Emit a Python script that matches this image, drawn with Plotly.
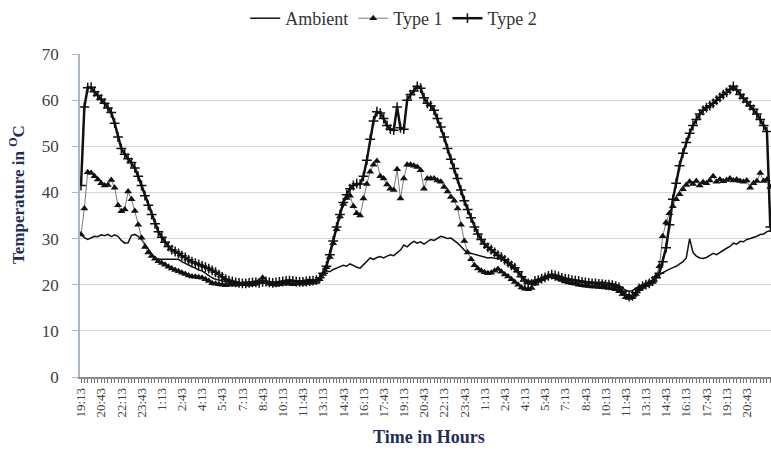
import plotly.graph_objects as go

# Readings every 15 minutes, starting at 19:13 on the first evening
START_TIME = "19:13"
STEP_MINUTES = 15

AMBIENT = [
    30.9, 30.2, 29.8, 30.2, 30.5, 30.4, 30.8, 30.6, 30.9, 30.4,
    30.8, 30.5, 29.6, 29.0, 29.1, 30.7, 30.9, 30.5, 29.8, 28.8,
    27.6, 26.7, 25.8, 25.5, 25.5, 25.5, 25.5, 25.5, 25.5, 25.5,
    25.0, 24.6, 24.2, 23.9, 23.6, 23.2, 23.0, 22.5, 22.0, 21.5,
    21.2, 21.0, 20.8, 20.6, 20.5, 20.6, 20.5, 20.4, 20.5, 20.6,
    20.5, 20.7, 20.8, 21.0, 20.9, 20.7, 20.6, 20.5, 20.5, 20.6,
    20.8, 21.0, 21.0, 20.9, 20.8, 20.8, 20.9, 21.0, 21.2, 21.0,
    20.8, 21.5, 22.3, 23.0, 22.8, 23.3, 23.6, 23.9, 24.2, 24.0,
    24.5, 24.2, 23.8, 23.6, 24.3, 25.0, 25.8, 25.5, 25.9, 26.1,
    25.8, 26.2, 26.5, 26.3, 26.9, 27.5, 28.6, 28.2, 28.9, 29.4,
    29.0, 29.3, 28.8, 29.4, 29.8, 29.6, 30.0, 30.5, 30.3, 30.0,
    30.1, 29.6, 29.0, 28.3, 27.5, 27.0, 26.8, 26.6, 26.4, 26.2,
    26.0, 25.8, 25.9, 25.7, 25.6, 25.6, 25.2, 24.5, 23.8, 23.2,
    22.5, 21.8, 21.2, 20.8, 20.6, 20.8, 21.0, 21.2, 21.4, 21.7,
    21.9, 21.8, 21.6, 21.4, 21.3, 21.1, 21.0, 20.9, 20.8, 20.7,
    20.7, 20.6, 20.6, 20.5, 20.5, 20.6, 20.5, 20.4, 20.3, 20.1,
    19.8, 19.3, 18.8, 18.6, 18.7, 19.2, 19.7, 20.0, 20.3, 20.6,
    21.0, 21.6, 22.2, 22.6, 23.0, 23.4, 23.7, 24.0, 24.5, 25.0,
    25.8, 30.0, 27.0, 26.2, 25.8, 25.7, 25.9, 26.3, 26.8, 26.5,
    27.0, 27.4, 27.9, 28.3, 29.0, 28.8, 29.4, 29.3, 29.8, 30.0,
    30.2, 30.5, 30.9, 31.0, 31.5, 31.7,
]

TYPE_1 = [
    30.9, 36.5, 44.4, 44.2, 43.5, 42.8, 42.0, 41.5, 41.6, 42.7,
    41.0, 37.2, 35.9, 36.3, 40.2, 38.5, 36.0, 33.0, 30.2, 28.2,
    27.0, 26.2, 25.6, 25.1, 24.7, 24.3, 23.9, 23.5, 23.2, 22.9,
    22.6, 22.3, 22.0, 21.8, 21.7, 21.6, 21.5, 21.2, 20.8, 20.3,
    20.2, 20.1, 20.0, 19.9, 20.0, 20.1, 20.0, 20.1, 20.2, 20.1,
    20.0, 20.1, 20.2, 20.6, 21.5, 20.6, 20.2, 20.1, 20.0, 20.1,
    20.2, 20.3, 20.2, 20.1, 20.2, 20.3, 20.2, 20.3, 20.4, 20.5,
    20.6, 21.2, 22.3, 23.8, 26.0, 29.0, 32.0, 34.8, 37.5, 38.8,
    39.3, 37.0, 35.5, 35.0, 38.7, 41.8, 44.5, 46.0, 46.8, 43.5,
    43.0, 41.7, 40.8, 40.5, 45.0, 38.7, 43.0, 46.0, 46.0, 45.8,
    45.5, 44.8, 40.8, 43.0, 43.0, 43.0, 42.6, 42.3, 41.2, 40.2,
    39.0, 38.2, 36.5, 33.0, 29.5, 27.0, 25.5, 24.2, 23.5, 23.0,
    22.7, 22.5, 22.6, 23.0, 23.4, 22.8, 22.2, 21.8, 21.2, 20.6,
    20.0, 19.4, 19.1, 19.0, 19.3, 20.2, 20.8, 21.2, 21.5, 21.8,
    21.9, 21.6, 21.3, 21.0, 20.7, 20.5, 20.3, 20.2, 20.0, 19.9,
    19.8, 19.7, 19.6, 19.6, 19.5, 19.5, 19.4, 19.3, 19.2, 19.0,
    18.6, 18.0, 17.3, 17.1, 17.3, 18.0, 19.0, 19.5, 19.9, 20.2,
    20.6, 21.8, 24.0, 30.5, 33.5, 35.5, 37.0, 38.5, 39.6, 40.7,
    41.6, 42.3, 41.8, 42.5, 41.5, 42.2, 42.0, 42.6, 43.5, 42.3,
    42.8, 42.4, 42.7, 43.0, 42.6, 42.8, 42.5, 42.3, 42.6, 41.0,
    42.0, 42.5, 44.2, 42.5, 42.8, 41.2,
]

TYPE_2 = [
    41.5, 58.5, 62.7, 62.8, 61.8, 61.0, 60.2, 59.3, 58.3, 57.3,
    55.0, 52.0, 49.5, 48.3, 47.3, 46.5, 45.3, 43.5, 41.5, 39.3,
    37.2, 35.2, 33.2, 31.5, 30.3, 29.2, 28.3, 27.6, 27.2, 26.8,
    26.3, 25.9, 25.4, 25.0, 24.7, 24.4, 24.1, 23.8, 23.5, 23.1,
    22.7, 22.2, 21.7, 21.2, 20.9, 20.7, 20.5, 20.4, 20.3, 20.3,
    20.4, 20.5, 20.5, 20.4, 20.6, 20.7, 20.5, 20.4, 20.5, 20.6,
    20.7, 20.8, 20.9, 20.8, 20.7, 20.6, 20.6, 20.7, 20.8, 20.9,
    21.0, 21.5, 22.5, 24.0, 26.5, 29.5, 32.5, 35.2, 37.8, 39.5,
    40.8, 41.5, 41.9, 41.8, 43.5, 47.0, 51.5, 55.5, 57.5, 57.2,
    56.0, 54.5, 53.7, 53.5, 58.5, 54.0, 53.7, 60.0, 61.2, 62.0,
    63.0, 62.6, 60.5, 59.3, 58.8, 57.8, 56.0, 54.2, 52.0, 49.5,
    47.2, 45.2, 43.0, 40.5, 38.2, 36.3, 34.5, 32.5, 31.0, 29.8,
    28.8, 28.1, 27.6, 27.0, 26.4, 26.0, 25.4, 24.8, 24.2, 23.7,
    22.8, 21.7, 20.8, 20.3, 20.2, 20.8, 21.0, 21.3, 21.6, 21.9,
    22.2, 22.0, 21.8, 21.5, 21.3, 21.2, 21.0, 20.9, 20.8, 20.6,
    20.5, 20.4, 20.3, 20.3, 20.2, 20.1, 20.0, 20.0, 19.9, 19.7,
    19.4, 18.6, 17.8, 17.4, 17.6, 18.3, 19.2, 19.7, 20.0, 20.3,
    20.8, 21.5, 22.5, 25.0, 28.0, 33.0, 38.5, 42.0, 45.8, 48.5,
    50.8, 52.8, 54.5, 55.8, 57.0, 57.8, 58.4, 58.8, 59.3, 60.0,
    60.6, 61.2, 61.7, 62.3, 63.0, 62.2, 61.2, 60.4, 59.6, 58.8,
    58.0, 57.0, 55.8, 54.5, 53.2, 32.5,
]

# Clock time of every reading (categories of the x axis)
h0, m0 = (int(p) for p in START_TIME.split(":"))
reading_times = []
for k in range(len(AMBIENT)):
    t = (h0 * 60 + m0 + k * STEP_MINUTES) % (24 * 60)
    reading_times.append(f"{t // 60}:{t % 60:02d}")

x_index = list(range(len(AMBIENT)))
TICK_EVERY = 6  # one label per 1.5 hours
TICK_POS = x_index[::TICK_EVERY]
TICK_LABELS = [reading_times[p] for p in TICK_POS]

SERIF = "Liberation Serif, Times New Roman, serif"
NAVY = "#1f2f5a"

fig = go.Figure()
fig.add_trace(go.Scatter(
    x=x_index, y=AMBIENT, name="Ambient", mode="lines",
    customdata=reading_times, hovertemplate="%{customdata}: %{y} °C",
    line=dict(color="#111111", width=1.5),
))
fig.add_trace(go.Scatter(
    x=x_index, y=TYPE_1, name="Type 1", mode="lines+markers",
    customdata=reading_times, hovertemplate="%{customdata}: %{y} °C",
    line=dict(color="#7a7a7a", width=1),
    marker=dict(symbol="triangle-up", size=7, color="#111111"),
))
fig.add_trace(go.Scatter(
    x=x_index, y=TYPE_2, name="Type 2", mode="lines+markers",
    customdata=reading_times, hovertemplate="%{customdata}: %{y} °C",
    line=dict(color="#111111", width=2.5),
    marker=dict(symbol="cross-thin", size=7, color="#111111",
                line=dict(color="#111111", width=1.5)),
))

fig.update_layout(
    width=771, height=451,
    margin=dict(l=80, r=0, t=51, b=74),
    paper_bgcolor="white", plot_bgcolor="white",
    showlegend=True,
    legend=dict(
        orientation="h", x=0.454, xanchor="center", y=1.11, yanchor="middle",
        font=dict(family=SERIF, size=18, color="#333333"),
        bgcolor="rgba(0,0,0,0)",
    ),
    annotations=[
        dict(text="<b>Time in Hours</b>", xref="paper", yref="paper",
             x=0.505, y=-0.187, xanchor="center", yanchor="middle",
             showarrow=False, font=dict(family=SERIF, size=18, color=NAVY)),
        dict(text="<b>Temperature in <sup>O</sup>C</b>", xref="paper", yref="paper",
             x=-0.091, y=0.564, xanchor="center", yanchor="middle", textangle=-90,
             showarrow=False, font=dict(family=SERIF, size=17, color=NAVY)),
    ],
)

fig.update_xaxes(
    range=[-0.3, 205.2],
    tickmode="array", tickvals=TICK_POS, ticktext=TICK_LABELS,
    tickangle=-90, tickfont=dict(family=SERIF, size=13, color="#404040"),
    ticks="outside", ticklen=4, tickcolor="#6f6f6f",
    minor=dict(tickmode="linear", tick0=0, dtick=1, ticks="outside",
               ticklen=4, tickcolor="#6f6f6f", showgrid=False),
    showline=True, linecolor="#8a8a8a", linewidth=1.5,
    showgrid=False, zeroline=False,
)
fig.update_yaxes(
    range=[0, 70], dtick=10,
    tickfont=dict(family=SERIF, size=17, color="#404040"),
    ticks="outside", ticklen=6, tickcolor="#a9b7c8",
    ticklabelstandoff=10,
    showline=True, linecolor="#a9b7c8", linewidth=1.5,
    showgrid=True, gridcolor="#cdd6e1", gridwidth=1,
    zeroline=False,
)

fig.write_html("out.html")
